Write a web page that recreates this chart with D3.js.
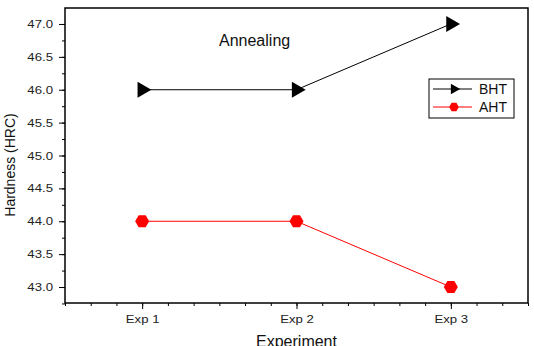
<!DOCTYPE html>
<html>
<head>
<meta charset="utf-8">
<script src="https://cdn.jsdelivr.net/npm/d3@7"></script>
<style>
body { margin: 0; background: #fff; }
text { font-family: "Liberation Sans", Arial, sans-serif; }
</style>
</head>
<body>
<svg id="chart"></svg>
<script>
var experiments = ["Exp 1", "Exp 2", "Exp 3"];
var bhtValues = [46.0, 46.0, 47.0];
var ahtValues = [44.0, 44.0, 43.0];
var yTicks = [43.0, 43.5, 44.0, 44.5, 45.0, 45.5, 46.0, 46.5, 47.0];

var margin = { top: 8, right: 6, bottom: 43, left: 65 },
	width = 534 - margin.left - margin.right,
	height = 346 - margin.top - margin.bottom,
	stretch = 1.2; // tick labels in the original are a bit wide

var svg = d3.select('#chart')
		.attr('width', 534)
		.attr('height', 346);
var g = svg.append('g')
		.attr('transform', 'translate(' + margin.left + ',' + margin.top + ')');

// categories sit at 1,2,3 with half a step of padding each side
var x = d3.scaleLinear()
	.domain([0.5, experiments.length + 0.5])
	.range([0, width]);

var y = d3.scaleLinear()
	.domain([42.757, 47.243])
	.range([height, 0]);

// hexagon with points to the left and right
var hexagon = {
	draw: function(ctx, size) {
		var r = Math.sqrt(size / (3 * Math.sqrt(3) / 2));
		for (var i = 0; i < 6; i++) {
			var a = i * Math.PI / 3;
			if (i == 0) ctx.moveTo(r * Math.cos(a), r * Math.sin(a));
			else ctx.lineTo(r * Math.cos(a), r * Math.sin(a));
		}
		ctx.closePath();
	}
};

// minor ticks
var xMinor = d3.range(0, 19).map(function(i){ return 0.5 + i / 6; });
var yMinor = d3.range(42.75, 47.25, 0.25);

g.append('g')
	.attr('transform', 'translate(0,' + height + ')')
	.call(d3.axisBottom(x).tickValues(xMinor).tickSize(3).tickFormat(''))
	.call(function(a){ a.select('.domain').remove(); });

g.append('g')
	.call(d3.axisLeft(y).tickValues(yMinor).tickSize(3).tickFormat(''))
	.call(function(a){ a.select('.domain').remove(); });

var xAxis = g.append('g')
	.attr('transform', 'translate(0,' + height + ')')
	.call(d3.axisBottom(x).tickValues([1, 2, 3]).tickSize(6).tickPadding(6)
		.tickFormat(function(d){ return experiments[d - 1]; }));
xAxis.select('.domain').remove();
xAxis.selectAll('text')
	.attr('font-size', 11)
	.attr('fill', '#222')
	.attr('transform', 'scale(' + stretch + ',1)')
	.style('font-family', '"Liberation Sans", Arial, sans-serif');

var yAxis = g.append('g')
	.call(d3.axisLeft(y).tickValues(yTicks).tickSize(6).tickPadding(6)
		.tickFormat(d3.format('.1f')));
yAxis.select('.domain').remove();
yAxis.selectAll('text')
	.attr('font-size', 11)
	.attr('fill', '#222')
	.attr('x', -12 / stretch)
	.attr('transform', 'scale(' + stretch + ',1)')
	.style('font-family', '"Liberation Sans", Arial, sans-serif');

// frame
g.append('rect')
	.attr('width', width)
	.attr('height', height)
	.attr('fill', 'none')
	.attr('stroke', '#000')
	.attr('stroke-width', 1.5);

var lineGen = d3.line()
	.x(function(d, i) { return x(i + 1); })
	.y(function(d) { return y(d); });

g.append('path')
	.datum(bhtValues)
	.attr('d', lineGen)
	.attr('fill', 'none')
	.attr('stroke', '#000')
	.attr('stroke-width', 1);

g.append('path')
	.datum(ahtValues)
	.attr('d', lineGen)
	.attr('fill', 'none')
	.attr('stroke', '#f00')
	.attr('stroke-width', 1);

g.selectAll('.bht')
	.data(bhtValues)
	.enter().append('path')
	.attr('class', 'bht')
	.attr('d', d3.symbol().type(d3.symbolTriangle).size(110))
	.attr('transform', function(d, i) {
		return 'translate(' + x(i + 1) + ',' + y(d) + ') rotate(90)';
	})
	.attr('fill', '#000');

g.selectAll('.aht')
	.data(ahtValues)
	.enter().append('path')
	.attr('class', 'aht')
	.attr('d', d3.symbol().type(hexagon).size(128))
	.attr('transform', function(d, i) {
		return 'translate(' + x(i + 1) + ',' + y(d) + ')';
	})
	.attr('fill', '#f00');

// annotation
svg.append('text')
	.attr('x', 219)
	.attr('y', 46)
	.attr('font-size', 16)
	.attr('fill', '#111')
	.text('Annealing');

// legend
var legend = svg.append('g').attr('transform', 'translate(429,79)');
legend.append('rect')
	.attr('width', 85)
	.attr('height', 39)
	.attr('fill', '#fff')
	.attr('stroke', '#000')
	.attr('stroke-width', 1);

var legendItems = [
	{ name: 'BHT', color: '#000', type: d3.symbolTriangle, size: 50, rot: 90 },
	{ name: 'AHT', color: '#f00', type: hexagon, size: 60, rot: 0 }
];

legendItems.forEach(function(d, i){
	var row = legend.append('g').attr('transform', 'translate(0,' + (10 + i * 18) + ')');
	row.append('line')
		.attr('x1', 4).attr('x2', 43)
		.attr('stroke', d.color).attr('stroke-width', 1);
	row.append('path')
		.attr('d', d3.symbol().type(d.type).size(d.size))
		.attr('transform', 'translate(25,0) rotate(' + d.rot + ')')
		.attr('fill', d.color);
	row.append('text')
		.attr('x', 50).attr('y', 5)
		.attr('font-size', 14)
		.attr('fill', '#111')
		.text(d.name);
});

// axis titles
svg.append('text')
	.attr('x', margin.left + width / 2)
	.attr('y', 347)
	.attr('text-anchor', 'middle')
	.attr('font-size', 16)
	.attr('fill', '#111')
	.text('Experiment');

svg.append('text')
	.attr('transform', 'translate(15,165) rotate(-90)')
	.attr('text-anchor', 'middle')
	.attr('font-size', 14)
	.attr('fill', '#111')
	.text('Hardness (HRC)');
</script>
</body>
</html>
